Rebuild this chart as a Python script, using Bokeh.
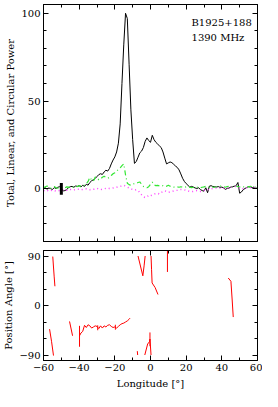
from bokeh.plotting import figure
from bokeh.layouts import column
from bokeh.models import FixedTicker, LinearAxis, Range1d, Label, CustomLabelingPolicy
from bokeh.embed import file_html
from bokeh.resources import INLINE

# ---------------- data ----------------
lon = [-60, -59, -58, -57, -56, -55, -54, -53, -52, -51, -50, -49, -48, -47, -46, -45, -44, -43, -42, -41,
       -40, -39, -38, -37, -36, -35, -34, -33, -32, -31, -30, -29, -28, -27, -26, -25, -24, -23, -22, -21,
       -20, -19, -18, -17, -16, -15, -14, -13, -12, -11, -10, -9, -8, -7, -6, -5, -4, -3, -2, -1,
       0, 1, 2, 3, 4, 5, 6, 7, 8, 9, 10, 11, 12, 13, 14, 15, 16, 17, 18, 19,
       20, 21, 22, 23, 24, 25, 26, 27, 28, 29, 30, 31, 32, 33, 34, 35, 36, 37, 38, 39,
       40, 41, 42, 43, 44, 45, 46, 47, 48, 49, 50, 51, 52, 53, 54, 55, 56, 57, 58, 59, 60]

total = [0.3, 0.6, -0.2, 0.5, 0.1, -0.4, 0.7, 0.2, 0.9, 1.2, 0.3, -1.2, -1.0, -0.4, 0.6, 1.2, 1.4, 0.9, 1.6, 1.4,
         1.8, 1.1, 2.0, 1.4, 2.6, 2.1, 3.6, 4.6, 5.2, 5.9, 7.0, 8.1, 8.6, 8.2, 9.6, 10.6, 10.1, 11.6, 14.2, 16.4,
         18.2, 21.0, 26.0, 37.0, 60.0, 82.0, 100.0, 97.0, 71.0, 45.0, 28.0, 14.5, 15.5, 18.0, 20.5, 21.5, 23.5, 27.0, 29.0, 27.5,
         26.5, 30.5, 28.0, 26.5, 25.5, 24.5, 23.5, 21.0, 17.5, 14.2, 14.8, 15.3, 14.9, 14.0, 13.0, 12.2, 10.8, 8.5, 6.0, 4.2,
         3.0, 2.0, 1.0, 1.4, 1.0, 0.5, 0.2, 0.6, -0.4, -1.0, -1.3, 0.6, -2.2, 1.5, 1.8, 1.3, 1.2, 1.0, 1.3, 0.8,
         1.0, 0.5, -0.3, 0.2, 0.4, 1.0, 1.2, 1.5, 1.8, 3.6, -2.5, -1.8, -0.5, 0.2, 0.8, 1.2, 1.0, 0.6, 1.0, 0.3, 0.5]

linear = [0.5, 1.2, 1.6, 0.8, 0.4, 1.0, 1.3, 0.6, 0.4, 0.9, 0.7, 0.3, 0.6, 1.1, 1.0, 0.7, 1.2, 1.0, 1.5, 1.3,
          1.8, 1.5, 2.2, 2.0, 2.8, 4.2, 6.5, 5.0, 4.4, 6.8, 6.2, 5.2, 5.6, 6.6, 7.2, 6.4, 6.0, 6.6, 7.6, 8.6,
          9.2, 10.0, 11.2, 12.0, 13.2, 14.2, 8.0, 3.2, 2.4, 2.0, 2.6, 3.0, 3.2, 3.6, 3.9, 2.6, 1.4, 0.9, 0.6, 1.2,
          2.6, 3.8, 2.2, 1.8, 2.0, 1.7, 1.5, 1.8, 1.3, 1.5, 2.0, 1.5, 1.2, 1.0, 1.3, 1.1, 0.9, 1.2, 1.0, 0.8,
          1.1, 1.3, 1.0, 0.7, 0.9, 1.2, 1.0, 0.8, 0.6, 0.9, 1.1, 1.4, 1.0, 0.8, 1.2, 1.0, 0.9, 1.1, 1.4, 1.6,
          1.5, 1.2, 0.9, 1.3, 1.5, 1.2, 1.0, 1.4, 1.6, 1.3, 1.0, 0.8, 1.1, 1.0, 0.7, 1.2, 1.4, 1.0, 0.8, 1.1, 0.9]

circular = [-1.0, -1.2, -0.8, -1.4, -1.1, -0.7, -1.0, -1.3, -0.9, -1.1, -1.0, -0.6, -0.5, -0.8, -0.3, -0.4, -0.2, -0.6, -0.5, -0.2,
            -0.3, -0.6, -0.3, -0.1, 0.0, -0.4, -0.5, -0.2, -0.3, 0.1, 0.3, -0.2, -0.5, -0.2, 0.0, 0.3, 0.5, 0.2, 0.3, 0.5,
            0.6, 0.9, 1.2, 1.4, 1.6, 2.0, 1.6, 1.0, 0.5, 0.0, -0.4, -0.8, -0.5, -1.0, -2.0, -3.4, -4.5, -5.0, -4.6, -3.6,
            -4.0, -3.5, -3.0, -2.6, -2.5, -3.0, -2.1, -1.6, -1.1, -1.5, -2.0, -1.8, -1.5, -1.2, -1.0, -0.8, -0.5, -0.4, -0.5, -0.6,
            -0.8, -1.2, -1.5, -1.6, -1.5, -1.2, -1.0, -1.3, -1.5, -1.2, -1.0, -0.7, -0.5, -0.2, 0.0, 0.2, 0.4, 0.5, 0.6, 0.4,
            0.5, 0.3, 0.2, 0.4, 0.5, 0.8, 1.0, 1.2, 1.5, 1.2, 0.3, 0.0, 0.2, 0.4, 0.6, 0.8, 0.7, 0.5, 0.6, 0.4, 0.5]

# off-pulse noise error bar
noise_lon = [-50]
noise_sigma = [3.3]

# position angle tracks (each list is one connected run)
pa_lon = [
    [-54.8, -54.4, -54.0, -53.6],
    [-56.6, -55.5, -54.4],
    [-45.4, -43.7],
    [-39.8, -39, -38, -37, -36, -35, -34, -33, -32, -31, -30, -29, -28, -27, -26, -25, -24, -23, -22, -21,
     -20, -19, -18, -17, -16, -15, -14, -13, -12, -11.5],
    [-7.4, -7.2],
    [-7.0, -5.5, -4.3, -3.6, -3.0],
    [0.3, 0.6, 0.9, 2.6, 4.2],
    [-3.2, -1.6, -0.6, -0.3, 0.3],
    [43.6, 45.1, 45.8, 46.4],
]
pa_val = [
    [89, 70, 52, 35],
    [-43, -65, -91],
    [-29, -55],
    [-55, -50, -47, -36, -40, -35, -37, -41, -39, -37, -38, -42, -37, -41, -37, -39, -36, -35, -38, -40,
     -39, -41, -38, -35, -33, -32, -30, -28, -25, -23],
    [-83, -90],
    [90, 70, 54, 72, 90],
    [90, 65, 41, 32.6, 20],
    [-90, -70, -66, -61, -90],
    [50, 44, 10, -21],
]
pa_err_lon = [-39.8, -29.6, -19.7, 9.5, -0.3]
pa_err_lo = [-75, -45, -44, 61, -74]
pa_err_hi = [-37, -36, -35, 120, -49]

x_major = [-60, -40, -20, 0, 20, 40, 60]
x_minor = [-50, -30, -10, 10, 30, 50]
x_labels = {-60: "\u221260", -40: "\u221240", -20: "\u221220", 0: "0", 20: "20", 40: "40", 60: "60"}
y1_major = [0, 50, 100]
y1_minor = [-20, -10, 10, 20, 30, 40, 60, 70, 80, 90]
y2_major = [-90, 0, 90]
y2_minor = [-60, -30, 30, 60]
y2_labels = {-90: "\u221290", 0: "0", 90: "90"}

source_name = "B1925+188"
freq_label = "1390 MHz"

FONT = "DejaVu Serif"
FS = "10px"


def style_axis(ax, major, minor, show, overrides=None):
    ax.ticker = FixedTicker(ticks=major, minor_ticks=minor)
    ax.major_tick_in = 5
    ax.major_tick_out = 0
    ax.minor_tick_in = 3
    ax.minor_tick_out = 0
    ax.axis_line_color = "black"
    ax.major_tick_line_color = "black"
    ax.minor_tick_line_color = "black"
    ax.major_label_text_font = FONT
    ax.axis_label_text_font = FONT
    ax.axis_label_text_font_style = "normal"
    ax.axis_label_text_font_size = FS
    ax.axis_label_text_color = "black"
    ax.major_label_text_color = "black"
    if overrides:
        ax.major_label_overrides = overrides
    if show:
        ax.major_label_text_font_size = FS
        ax.major_label_standoff = 3
        ax.axis_label_standoff = 4
    else:
        # tick marks only: no tick labels drawn
        ax.major_label_policy = CustomLabelingPolicy(code="return new Set()")
        ax.major_label_text_font_size = "1px"
        ax.major_label_standoff = 0


# ---------------- top panel ----------------
p1 = figure(width=262, height=245, x_range=Range1d(-60, 60), y_range=Range1d(-30, 105),
            output_backend="svg", toolbar_location=None,
            min_border_top=2, min_border_bottom=4, min_border_left=2, min_border_right=2)
p1.grid.visible = False
p1.outline_line_color = "black"
p1.background_fill_color = "white"
p1.border_fill_color = "white"

style_axis(p1.xaxis[0], x_major, x_minor, False)
style_axis(p1.yaxis[0], y1_major, y1_minor, True)
p1.yaxis[0].axis_label = "Total, Linear, and Circular Power"
p1.yaxis[0].axis_label_standoff = 2
top1 = LinearAxis()
style_axis(top1, x_major, x_minor, False)
p1.add_layout(top1, "above")
right1 = LinearAxis()
style_axis(right1, y1_major, y1_minor, False)
p1.add_layout(right1, "right")

p1.line(lon, total, line_color="black", line_width=1)
p1.line(lon, linear, line_color="#33e633", line_width=1.2, line_dash="5 3 1 3")
p1.line(lon, circular, line_color="#ff44ff", line_width=1.5, line_dash="1 3")
p1.segment(x0=noise_lon, y0=[-s for s in noise_sigma], x1=noise_lon, y1=noise_sigma,
           line_color="black", line_width=3)

p1.add_layout(Label(x=23, y=95, text=source_name, text_font=FONT, text_font_size=FS,
                    text_baseline="middle", text_color="black"))
p1.add_layout(Label(x=23, y=86, text=freq_label, text_font=FONT, text_font_size=FS,
                    text_baseline="middle", text_color="black"))

# ---------------- bottom panel ----------------
p2 = figure(width=262, height=146, x_range=p1.x_range, y_range=Range1d(-100, 100),
            output_backend="svg", toolbar_location=None,
            min_border_top=5, min_border_bottom=2, min_border_left=2, min_border_right=2)
p2.grid.visible = False
p2.outline_line_color = "black"
p2.background_fill_color = "white"
p2.border_fill_color = "white"

style_axis(p2.xaxis[0], x_major, x_minor, True, x_labels)
p2.xaxis[0].axis_label = "Longitude [\u00b0]"
style_axis(p2.yaxis[0], y2_major, y2_minor, True, y2_labels)
p2.yaxis[0].axis_label = "Position Angle [\u00b0]"
p2.yaxis[0].axis_label_standoff = 2
top2 = LinearAxis()
style_axis(top2, x_major, x_minor, False)
p2.add_layout(top2, "above")
right2 = LinearAxis()
style_axis(right2, y2_major, y2_minor, False)
p2.add_layout(right2, "right")

p2.multi_line(pa_lon, pa_val, line_color="red", line_width=1)
p2.segment(x0=pa_err_lon, y0=pa_err_lo, x1=pa_err_lon, y1=pa_err_hi, line_color="red", line_width=1)

layout = column(p1, p2, spacing=0)
open("out.html", "w").write(file_html(layout, INLINE))
